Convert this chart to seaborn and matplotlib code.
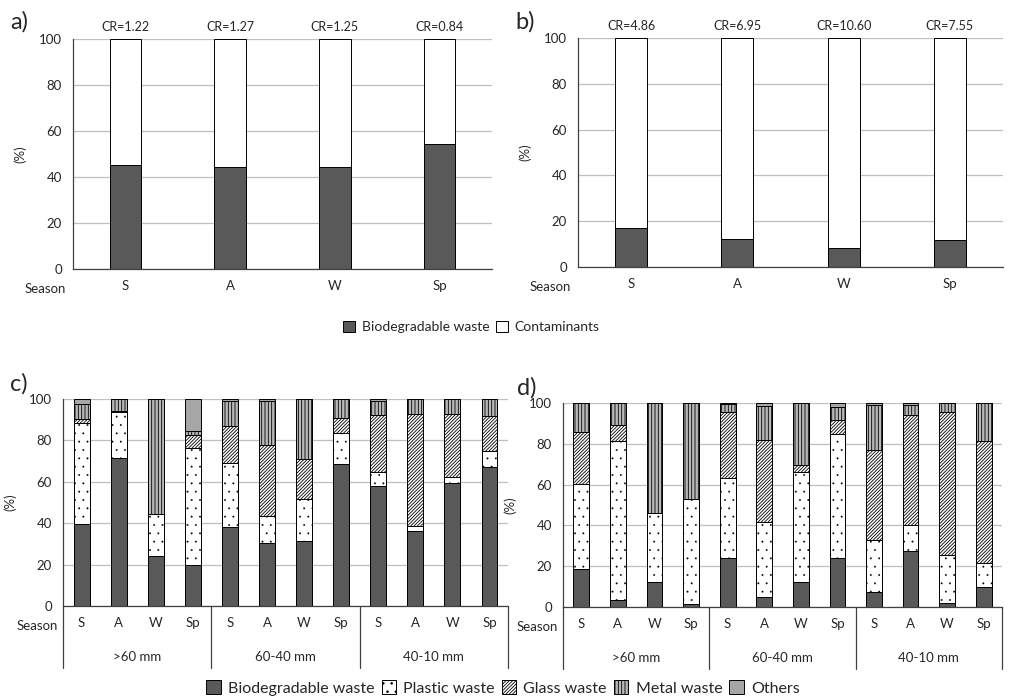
import numpy as np
import pandas as pd
import matplotlib
matplotlib.use("Agg")
import matplotlib.pyplot as plt
import matplotlib.transforms as mtransforms
from matplotlib.patches import Patch
import seaborn as sns

sns.set_style("white")
plt.rcParams['font.family'] = ['Lato', 'DejaVu Sans']
plt.rcParams['hatch.color'] = 'black'
plt.rcParams['hatch.linewidth'] = 0.6

# ---------------- data ----------------
seasons = ["S", "A", "W", "Sp"]
size_groups = [">60 mm", "60-40 mm", "40-10 mm"]

cr_a = ["CR=1.22", "CR=1.27", "CR=1.25", "CR=0.84"]
bio_a = [45.4, 44.4, 44.4, 54.3]
cr_b = ["CR=4.86", "CR=6.95", "CR=10.60", "CR=7.55"]
bio_b = [17.1, 12.3, 8.3, 11.8]

# panel c (12 bars: seasons within size groups)
c_bio     = [39.5, 71.3, 24.2, 19.8, 38.4, 30.3, 31.2, 68.8, 57.8, 36.2, 59.4, 67.0]
c_plastic = [48.9, 22.2, 20.2, 56.3, 30.6, 13.1, 20.3, 15.0, 7.1, 2.6, 2.9, 7.8]
c_glass   = [1.9, 0.7, 0.0, 6.5, 18.1, 34.3, 19.7, 6.8, 27.3, 54.2, 30.7, 16.8]
c_metal   = [7.4, 5.8, 55.6, 1.8, 12.1, 21.3, 28.8, 9.4, 7.0, 7.0, 7.0, 8.4]
c_others  = [2.3, 0.0, 0.0, 15.6, 0.8, 1.0, 0.0, 0.0, 0.8, 0.0, 0.0, 0.0]

# panel d
d_bio     = [18.5, 3.5, 12.4, 1.6, 23.9, 4.7, 12.3, 23.9, 7.2, 27.6, 2.1, 9.8]
d_plastic = [41.8, 78.0, 33.5, 51.2, 39.3, 36.8, 53.9, 60.9, 25.5, 12.6, 23.4, 11.8]
d_glass   = [25.5, 7.9, 0.0, 0.0, 32.2, 40.5, 3.6, 6.7, 44.4, 53.8, 70.1, 59.9]
d_metal   = [14.2, 10.6, 54.1, 47.2, 4.1, 16.4, 30.2, 6.5, 22.1, 5.2, 4.4, 18.5]
d_others  = [0.0, 0.0, 0.0, 0.0, 0.5, 1.6, 0.0, 2.0, 0.8, 0.8, 0.0, 0.0]

layer_names = ["Biodegradable waste", "Plastic waste", "Glass waste", "Metal waste", "Others"]

# ---------------- styles ----------------
BIO = "#595959"
styles = {
    "Biodegradable waste": dict(color=BIO, hatch=None, hlw=0.6, hc="black"),
    "Plastic waste": dict(color="white", hatch="..", hlw=0.15, hc="#666666"),
    "Glass waste": dict(color="white", hatch="//////////", hlw=0.6, hc="black"),
    "Metal waste": dict(color="#b8b8b8", hatch="|||||", hlw=0.6, hc="black"),
    "Others": dict(color="#a6a6a6", hatch=None, hlw=0.6, hc="black"),
    "Contaminants": dict(color="white", hatch=None, hlw=0.6, hc="black"),
}
TXT = "#262626"
FS = 9.5

fig = plt.figure(figsize=(10.11, 6.96), dpi=100)

def style_axes(ax):
    ax.set_ylim(0, 100)
    ax.set_yticks([0, 20, 40, 60, 80, 100])
    ax.yaxis.grid(True, color="#bfbfbf", lw=0.9)
    ax.xaxis.grid(False)
    ax.set_axisbelow(True)
    for s in ["top", "right"]:
        ax.spines[s].set_visible(False)
    ax.spines["left"].set_color("#404040")
    ax.spines["bottom"].set_color("#404040")
    ax.spines["left"].set_linewidth(0.9)
    ax.spines["bottom"].set_linewidth(0.9)
    ax.tick_params(axis="y", direction="out", length=5, width=0.8, color="#404040",
                   labelsize=FS, labelcolor=TXT, pad=3)
    ax.tick_params(axis="x", length=0, labelsize=FS, labelcolor=TXT, pad=8)
    ax.set_xlabel("")
    ax.set_ylabel("(%)", fontsize=FS, color=TXT, labelpad=9)

def stacked(ax, keys, layers, names, width):
    cum = np.cumsum(np.array(layers), axis=0)
    for i in range(len(names) - 1, -1, -1):
        df = pd.DataFrame({"key": keys, "val": cum[i]})
        st = styles[names[i]]
        with plt.rc_context({"hatch.linewidth": st["hlw"], "hatch.color": st["hc"]}):
            sns.barplot(data=df, x="key", y="val", order=keys, ax=ax, color=st["color"],
                        saturation=1, width=width, errorbar=None, edgecolor="black",
                        linewidth=0.7, hatch=st["hatch"])

# ----- panels a and b -----
for pos, bio, crs, lab in [((0.0722, 0.6135, 0.4144, 0.3305), bio_a, cr_a, "a)"),
                           ((0.5717, 0.6164, 0.4204, 0.3290), bio_b, cr_b, "b)")]:
    ax = fig.add_axes(pos)
    contam = [100 - v for v in bio]
    stacked(ax, seasons, [bio, contam], ["Biodegradable waste", "Contaminants"], 0.3)
    style_axes(ax)
    ax.set_xlim(-0.5, 3.5)
    for i, t in enumerate(crs):
        ax.annotate(t, xy=(i, 100), xycoords="data", xytext=(0, 8.5), textcoords="offset points",
                    ha="center", va="center", fontsize=FS - 0.5, color=TXT)
    ax.annotate("Season", xy=(0, 0), xycoords="axes fraction", xytext=(-5, -14.5),
                textcoords="offset points", ha="right", va="center", fontsize=FS, color=TXT)
    ax.annotate(lab, xy=(0, 1), xycoords="axes fraction", xytext=(-45, 12),
                textcoords="offset points", ha="left", va="center", fontsize=17, color=TXT)

# ----- panels c and d -----
keys12 = [f"{g}|{s}" for g in size_groups for s in seasons]
for pos, layers, lab, dx in [((0.0623, 0.1293, 0.4402, 0.2974),
                              [c_bio, c_plastic, c_glass, c_metal, c_others], "c)", -38),
                             ((0.5569, 0.1279, 0.4342, 0.2931),
                              [d_bio, d_plastic, d_glass, d_metal, d_others], "d)", -33)]:
    ax = fig.add_axes(pos)
    stacked(ax, keys12, layers, layer_names, 0.43)
    style_axes(ax)
    ax.set_xlim(-0.5, 11.5)
    ax.set_xticks(range(12))
    ax.set_xticklabels(seasons * 3)
    trans = mtransforms.blended_transform_factory(ax.transData, ax.transAxes)
    h_px = pos[3] * 696
    for xb in [-0.5, 3.5, 7.5, 11.5]:
        ax.plot([xb, xb], [0, -62 / h_px], transform=trans, color="#404040", lw=0.9,
                clip_on=False)
    for gi, g in enumerate(size_groups):
        ax.text(gi * 4 + 1.5, -51 / h_px, g, transform=trans, ha="center", va="center",
                fontsize=FS, color=TXT)
    ax.annotate("Season", xy=(0, 0), xycoords="axes fraction", xytext=(-4, -14.5),
                textcoords="offset points", ha="right", va="center", fontsize=FS, color=TXT)
    ax.annotate(lab, xy=(0, 1), xycoords="axes fraction", xytext=(dx, 11),
                textcoords="offset points", ha="left", va="center", fontsize=17, color=TXT)

# ----- legends -----
def handle(name):
    st = styles[name]
    with plt.rc_context({"hatch.linewidth": st["hlw"], "hatch.color": st["hc"]}):
        p = Patch(facecolor=st["color"], hatch=st["hatch"], edgecolor="black", linewidth=0.7,
                  label=name)
    return p

fig.legend(handles=[handle("Biodegradable waste"), handle("Contaminants")],
           loc="center", bbox_to_anchor=(0.466, 0.530), ncol=2, frameon=False,
           fontsize=10, handlelength=0.9, handleheight=0.9, handletextpad=0.45,
           columnspacing=0.45, labelcolor=TXT)
fig.legend(handles=[handle(n) for n in layer_names],
           loc="center", bbox_to_anchor=(0.4975, 0.0115), ncol=5, frameon=False,
           fontsize=11.5, handlelength=0.9, handleheight=0.9, handletextpad=0.45,
           columnspacing=0.45, labelcolor=TXT)

fig.savefig("out.png", dpi=100)
